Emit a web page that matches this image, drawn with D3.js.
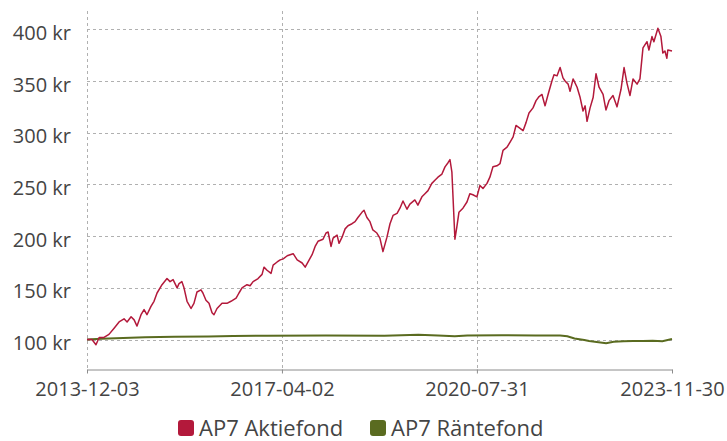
<!DOCTYPE html>
<html>
<head>
<meta charset="utf-8">
<script src="https://cdn.jsdelivr.net/npm/d3@7"></script>
<style>
  body { margin: 0; background: #fff; }
  text { font-family: "Open Sans", sans-serif; fill: #444; }
</style>
</head>
<body>
<div id="chart"></div>
<script>
// AP7 Aktiefond
const aktieDates = ["2013-12-03","2014-01-03","2014-01-28","2014-02-17","2014-03-19","2014-04-19","2014-05-21","2014-06-21","2014-07-22","2014-08-10","2014-09-04","2014-09-23","2014-10-11","2014-11-05","2014-11-24","2014-12-12","2015-01-06","2015-01-25","2015-02-13","2015-03-16","2015-04-16","2015-05-05","2015-05-24","2015-06-18","2015-06-30","2015-07-18","2015-07-31","2015-08-19","2015-09-13","2015-10-01","2015-10-20","2015-11-14","2015-11-26","2015-12-15","2016-01-03","2016-01-22","2016-02-03","2016-02-22","2016-03-24","2016-04-24","2016-05-19","2016-06-20","2016-07-08","2016-07-27","2016-08-27","2016-09-15","2016-10-04","2016-11-04","2016-11-29","2016-12-11","2016-12-30","2017-01-24","2017-02-06","2017-03-03","2017-03-22","2017-04-10","2017-05-05","2017-05-23","2017-06-11","2017-07-06","2017-08-06","2017-08-25","2017-09-12","2017-10-07","2017-10-26","2017-11-13","2017-12-14","2018-01-02","2018-01-15","2018-02-02","2018-02-15","2018-03-12","2018-03-24","2018-04-12","2018-05-01","2018-05-19","2018-06-13","2018-07-02","2018-07-20","2018-08-14","2018-08-27","2018-09-14","2018-10-03","2018-10-21","2018-11-15","2018-12-04","2018-12-23","2019-01-17","2019-02-05","2019-02-24","2019-03-21","2019-04-08","2019-04-27","2019-05-22","2019-06-09","2019-07-10","2019-07-29","2019-08-23","2019-09-11","2019-09-30","2019-10-24","2019-11-12","2019-12-01","2019-12-26","2020-01-14","2020-02-02","2020-02-14","2020-02-26","2020-03-16","2020-03-28","2020-04-10","2020-05-05","2020-05-30","2020-06-17","2020-07-06","2020-07-31","2020-08-19","2020-09-07","2020-10-02","2020-10-20","2020-11-08","2020-12-03","2020-12-22","2021-01-10","2021-02-04","2021-02-23","2021-03-14","2021-04-01","2021-04-20","2021-05-15","2021-06-03","2021-06-21","2021-07-16","2021-08-04","2021-08-23","2021-09-10","2021-09-29","2021-10-18","2021-11-11","2021-11-24","2021-12-13","2022-01-01","2022-01-19","2022-02-01","2022-02-20","2022-03-04","2022-03-23","2022-04-17","2022-05-06","2022-05-24","2022-06-06","2022-06-18","2022-07-07","2022-07-26","2022-08-13","2022-09-01","2022-09-26","2022-10-14","2022-11-02","2022-11-27","2022-12-22","2023-01-16","2023-02-04","2023-02-22","2023-03-13","2023-04-01","2023-04-26","2023-05-14","2023-06-02","2023-06-27","2023-07-09","2023-07-28","2023-08-09","2023-09-03","2023-09-22","2023-10-04","2023-10-17","2023-10-29","2023-11-04","2023-11-30"];
const aktieValues = [100,100,95,102,102,105,111,117,120,117,122,119,113,124,129,124,132,137,145,153,159,156,158,150,154,156,150,137,130,135,146,148,145,138,135,126,124,130,135,135,137,140,145,150,153,152,156,159,163,170,167,164,172,175,177,178,181,182,183,177,174,170,175,182,190,195,197,203,204,190,198,201,193,199,207,210,212,214,218,223,225,218,214,206,203,198,185,199,212,220,222,227,234,226,231,235,230,238,241,244,251,254,257,260,267,271,274,262,197,209,223,227,233,241,240,238,249,246,251,257,267,268,270,283,286,291,296,307,305,302,310,319,324,331,335,337,326,337,350,356,355,363,353,350,347,340,352,344,334,321,326,311,324,334,357,344,337,322,331,336,325,342,363,348,336,352,347,352,382,388,380,393,388,401,393,377,379,372,380,379];

// AP7 Räntefond
const ranteDates = ["2013-12-03","2014-03-01","2014-06-01","2014-12-01","2015-06-01","2016-01-01","2016-06-01","2017-01-01","2018-01-01","2019-01-01","2019-08-01","2019-12-01","2020-03-15","2020-06-01","2021-01-01","2021-08-01","2022-01-01","2022-02-15","2022-04-01","2022-06-01","2022-07-01","2022-10-15","2022-12-01","2023-02-01","2023-04-01","2023-06-01","2023-08-01","2023-10-01","2023-11-30"];
const ranteValues = [100,100.8,101.3,102.2,102.8,103,103.5,103.6,103.8,103.7,104.5,104,103.2,104,104.2,104,103.8,103.2,101,99.5,98.5,96.5,97.8,98.3,98.5,98.6,98.8,98.3,100.5];

const xTicks = ["2013-12-03","2017-04-02","2020-07-31","2023-11-30"];
const yTicks = [100,150,200,250,300,350,400];
const seriesNames = ["AP7 Aktiefond","AP7 Räntefond"];
const seriesColors = ["#b3193b","#5a6b20"];

const w = 727;
const h = 441;
const parse = d3.timeParse("%Y-%m-%d");

const x = d3.scaleTime()
            .domain([parse(xTicks[0]), parse(xTicks[xTicks.length - 1])])
            .range([87, 672]);
const y = d3.scaleLinear()
            .domain([71.5, 417.7])
            .range([369, 11]);

const svg = d3.select("#chart")
              .append("svg")
              .attr("width", w)
              .attr("height", h)

// horizontal grid
svg.append("g")
   .selectAll("line")
   .data(yTicks)
   .enter()
   .append("line")
   .attr("x1", 87)
   .attr("x2", 672)
   .attr("y1", d => Math.round(y(d)) + 0.5)
   .attr("y2", d => Math.round(y(d)) + 0.5)
   .attr("stroke", "#b0b0b0")
   .attr("stroke-dasharray", "3,3")

// vertical grid (not at the last tick)
svg.append("g")
   .selectAll("line")
   .data(xTicks.slice(0, -1))
   .enter()
   .append("line")
   .attr("x1", d => Math.round(x(parse(d))) + 0.5)
   .attr("x2", d => Math.round(x(parse(d))) + 0.5)
   .attr("y1", 11)
   .attr("y2", 369)
   .attr("stroke", "#b0b0b0")
   .attr("stroke-dasharray", "3,3")

svg.append("g")
   .selectAll("text")
   .data(yTicks)
   .enter()
   .append("text")
   .attr("x", 71)
   .attr("y", d => y(d) + 10.5)
   .attr("text-anchor", "end")
   .style("font-size", "20px")
   .text(d => `${d} kr`)

const xAxis = svg.append("g")
                 .attr("transform", "translate(0,369.5)")
                 .call(d3.axisBottom(x)
                         .tickValues(xTicks.map(parse))
                         .tickFormat(d3.timeFormat("%Y-%m-%d"))
                         .tickSize(4)
                         .tickSizeOuter(0))
xAxis.select(".domain").attr("stroke", "#8c8c8c")
xAxis.selectAll(".tick line").attr("stroke", "#8c8c8c")
xAxis.selectAll(".tick text")
     .attr("y", 12)
     .attr("dy", "0.71em")
     .style("font-size", "20px")
     .style("font-family", "Open Sans")
     .attr("fill", "#444")

const line = d3.line()
               .x(d => x(d[0]))
               .y(d => y(d[1]))

const series = [
  d3.zip(ranteDates.map(parse), ranteValues),
  d3.zip(aktieDates.map(parse), aktieValues)
];

svg.append("path")
   .datum(series[0])
   .attr("d", line)
   .attr("fill", "none")
   .attr("stroke", seriesColors[1])
   .attr("stroke-width", 2)

svg.append("path")
   .datum(series[1])
   .attr("d", line)
   .attr("fill", "none")
   .attr("stroke", seriesColors[0])
   .attr("stroke-width", 1.5)
   .attr("stroke-linejoin", "round")

// legend
const legendX = [178, 370];
const legend = svg.selectAll(".legend")
                  .data(seriesNames)
                  .enter()
                  .append("g")
                  .attr("class", "legend")
                  .attr("transform", (d, i) => `translate(${legendX[i]},420)`)
legend.append("rect")
      .attr("width", 16)
      .attr("height", 16)
      .attr("rx", 3)
      .attr("fill", (d, i) => seriesColors[i])
legend.append("text")
      .attr("x", 21)
      .attr("y", 16)
      .style("font-size", "22px")
      .text(d => d)
</script>
</body>
</html>
